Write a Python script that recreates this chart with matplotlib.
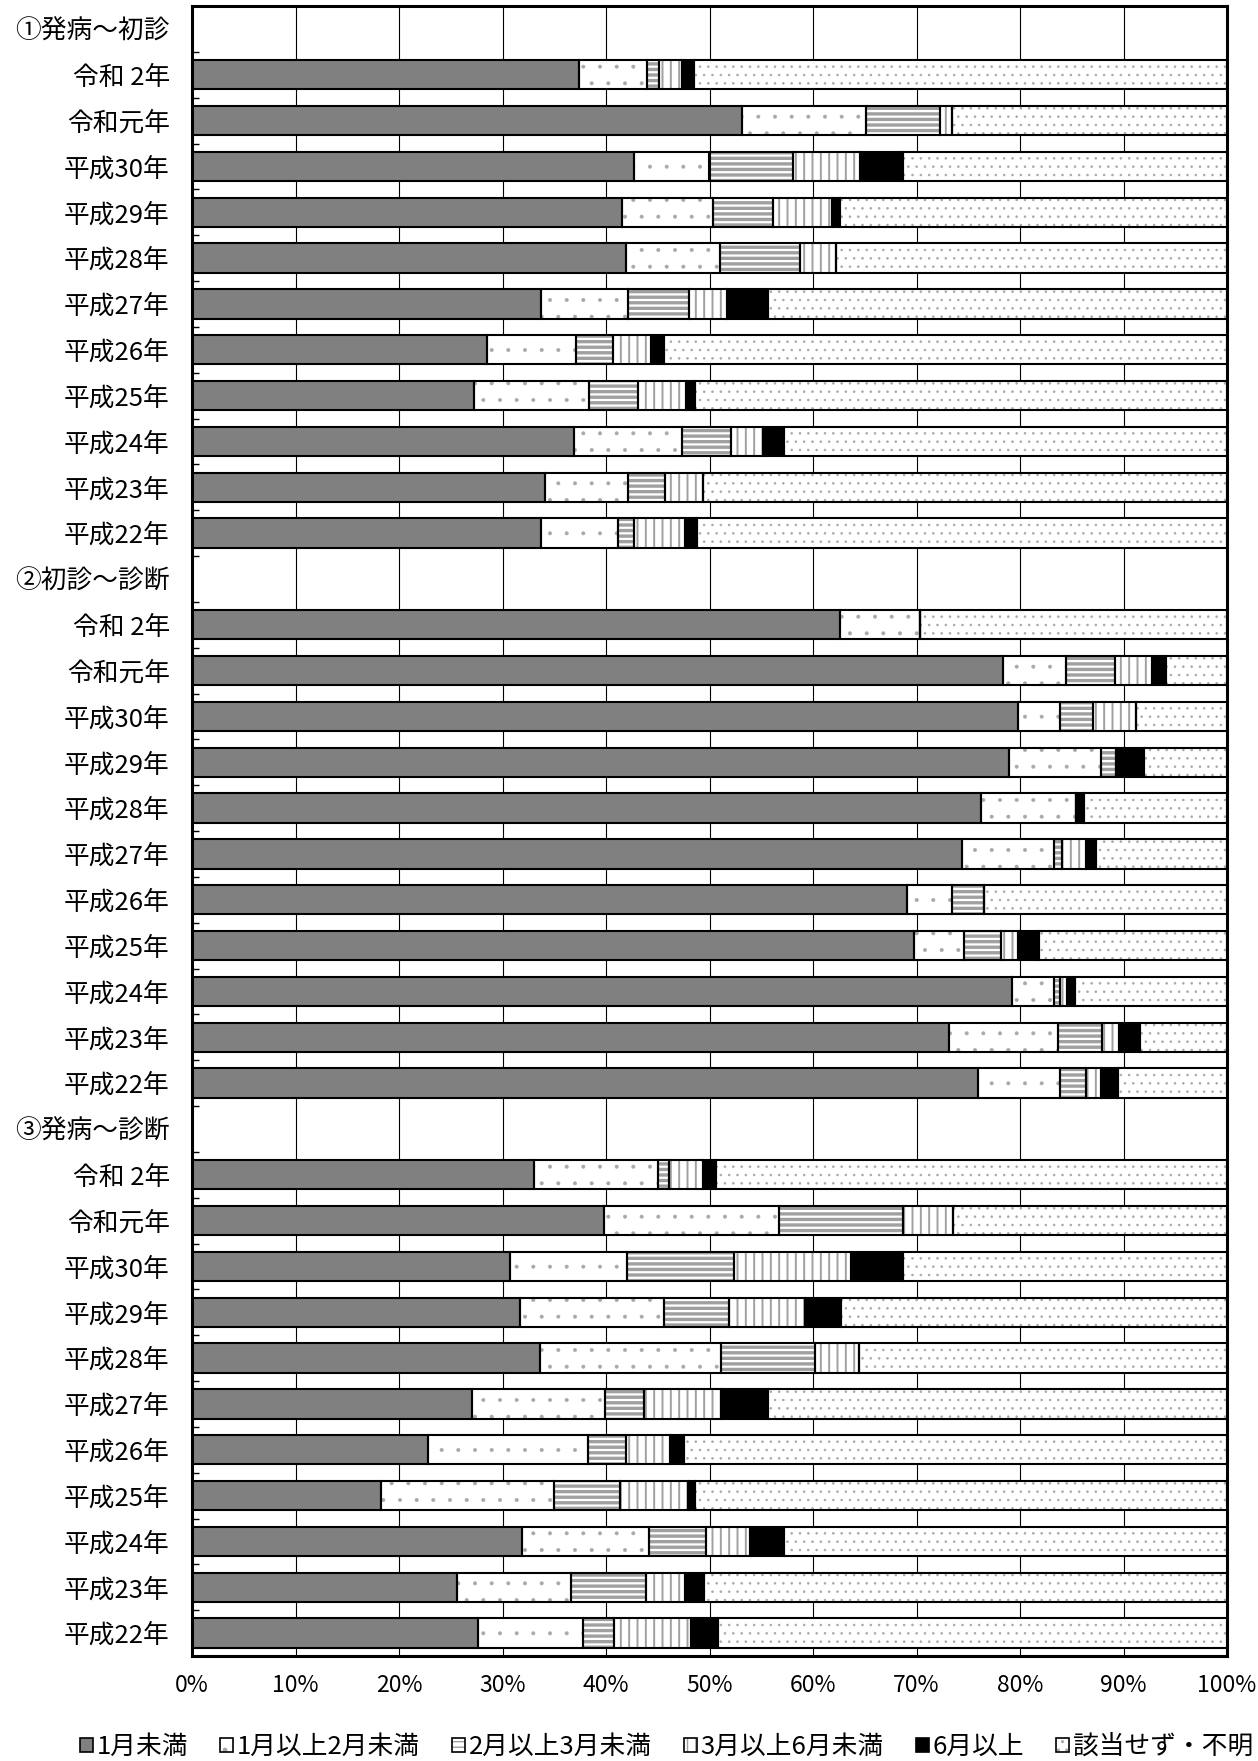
import matplotlib
matplotlib.use('Agg')
import matplotlib.pyplot as plt
from matplotlib.patches import Patch
from matplotlib.legend_handler import HandlerTuple
import numpy as np

plt.rcParams['font.family'] = ['Noto Sans CJK JP', 'DejaVu Sans']

groups = ['①発病～初診', '②初診～診断', '③発病～診断']
years = ['令和 2年', '令和元年', '平成30年', '平成29年', '平成28年', '平成27年',
         '平成26年', '平成25年', '平成24年', '平成23年', '平成22年']
categories = ['1月未満', '1月以上2月未満', '2月以上3月未満', '3月以上6月未満',
              '6月以上', '該当せず・不明']
xtick_vals = [0, 10, 20, 30, 40, 50, 60, 70, 80, 90, 100]

# ① 発病～初診
g1_lt1 = [37.4, 53.1, 42.7, 41.5, 41.9, 33.7, 28.5, 27.2, 36.9, 34.1, 33.7]
g1_1to2 = [6.6, 12.0, 7.3, 8.8, 9.1, 8.4, 8.6, 11.2, 10.4, 8.0, 7.5]
g1_2to3 = [1.1, 7.2, 8.1, 5.8, 7.7, 5.9, 3.6, 4.7, 4.8, 3.6, 1.5]
g1_3to6 = [2.2, 1.1, 6.4, 5.7, 3.5, 3.7, 3.6, 4.6, 3.1, 3.7, 4.9]
g1_ge6 = [1.2, 0.0, 4.2, 0.8, 0.0, 4.0, 1.3, 0.9, 2.0, 0.0, 1.2]
g1_na = [51.5, 26.6, 31.3, 37.4, 37.8, 44.3, 54.4, 51.4, 42.8, 50.6, 51.2]

# ② 初診～診断
g2_lt1 = [62.6, 78.4, 79.8, 78.9, 76.2, 74.4, 69.1, 69.8, 79.2, 73.1, 75.9]
g2_1to2 = [7.7, 6.0, 4.1, 8.9, 9.2, 8.9, 4.3, 4.8, 4.1, 10.6, 8.0]
g2_2to3 = [0.0, 4.8, 3.2, 1.5, 0.0, 0.8, 3.1, 3.6, 0.6, 4.2, 2.5]
g2_3to6 = [0.0, 3.6, 4.1, 0.0, 0.0, 2.3, 0.0, 1.6, 0.6, 1.7, 1.4]
g2_ge6 = [0.0, 1.3, 0.0, 2.7, 0.8, 0.9, 0.0, 2.0, 0.8, 2.0, 1.7]
g2_na = [29.7, 5.9, 8.8, 8.0, 13.8, 12.7, 23.5, 18.2, 14.7, 8.4, 10.5]

# ③ 発病～診断
g3_lt1 = [33.0, 39.8, 30.7, 31.7, 33.6, 27.1, 22.8, 18.3, 31.9, 25.6, 27.6]
g3_1to2 = [12.0, 16.9, 11.3, 13.9, 17.5, 12.8, 15.5, 16.7, 12.3, 11.0, 10.2]
g3_2to3 = [1.1, 12.0, 10.4, 6.3, 9.1, 3.8, 3.6, 6.4, 5.5, 7.3, 3.0]
g3_3to6 = [3.3, 4.8, 11.3, 7.3, 4.2, 7.4, 4.3, 6.5, 4.2, 3.7, 7.4]
g3_ge6 = [1.2, 0.0, 5.0, 3.5, 0.0, 4.6, 1.3, 0.7, 3.3, 1.9, 2.6]
g3_na = [49.4, 26.5, 31.3, 37.3, 35.6, 44.3, 52.5, 51.4, 42.8, 50.5, 49.2]

group_data = [
    [g1_lt1, g1_1to2, g1_2to3, g1_3to6, g1_ge6, g1_na],
    [g2_lt1, g2_1to2, g2_2to3, g2_3to6, g2_ge6, g2_na],
    [g3_lt1, g3_1to2, g3_2to3, g3_3to6, g3_ge6, g3_na],
]

faces = ['#808080', 'white', 'white', 'white', 'black', 'white']
hatches = [None, '.', '---', '||', None, '..']
hatch_lw = [1.0, 0.4, 2.4, 1.4, 1.0, 0.6]
hatch_cols = ['#9a9a9a', '#a8a8a8', '#a0a0a0', '#a0a0a0', '#9a9a9a', '#a8a8a8']

fig = plt.figure(figsize=(12.58, 17.61), dpi=100)
ax = fig.add_axes([192 / 1258, 1 - 1656 / 1761, (1227 - 192) / 1258, (1656 - 6) / 1761])

n_years = len(years)
bar_h = 0.64
for g, series in enumerate(group_data):
    ypos = np.arange(n_years) + g * (n_years + 1) + 1
    left = np.zeros(n_years)
    for k, vals in enumerate(series):
        vals = np.asarray(vals, dtype=float)
        with plt.rc_context({'hatch.linewidth': hatch_lw[k]}):
            ax.barh(ypos, vals, left=left, height=bar_h, color=faces[k],
                    hatch=hatches[k], edgecolor=hatch_cols[k], linewidth=0, zorder=2)
        ax.barh(ypos, vals, left=left, height=bar_h, facecolor='none',
                edgecolor='black', linewidth=1.5, zorder=3)
        left = left + vals

labels = []
for g in range(3):
    labels.append(groups[g])
    labels.extend(years)
n_rows = len(labels)

ax.set_ylim(n_rows - 0.5, -0.5)
ax.set_xlim(0, 100)
ax.set_yticks(np.arange(n_rows))
ax.set_yticklabels(labels, fontsize=18.5)
ax.set_yticks(np.arange(0.5, n_rows - 1, 1), minor=True)
ax.set_xticks(xtick_vals)
ax.set_xticklabels([f'{v}%' for v in xtick_vals], fontsize=16.5)
ax.tick_params(axis='y', which='major', length=0, pad=16)
ax.tick_params(axis='y', which='minor', direction='in', length=5, width=1, left=True)
ax.tick_params(axis='x', which='major', length=0, pad=13)
ax.grid(axis='x', color='black', linewidth=0.8, zorder=0)
ax.set_axisbelow(True)
for s in ax.spines.values():
    s.set_linewidth(2.2)
    s.set_zorder(5)

handles = []
for k in range(6):
    with plt.rc_context({'hatch.linewidth': hatch_lw[k]}):
        p1 = Patch(facecolor=faces[k], hatch=hatches[k], edgecolor=hatch_cols[k], linewidth=0)
    p2 = Patch(facecolor='none', edgecolor='black', linewidth=1.2)
    handles.append((p1, p2))

fig.legend(handles, categories, loc='center', bbox_to_anchor=(0.53, 1 - 1747 / 1761),
           ncol=6, frameon=False, fontsize=18.5, handlelength=0.5, handleheight=0.5,
           handletextpad=0.15, columnspacing=1.25, borderpad=0.1,
           handler_map={tuple: HandlerTuple(ndivide=1)})

fig.savefig('out.png', dpi=100)
